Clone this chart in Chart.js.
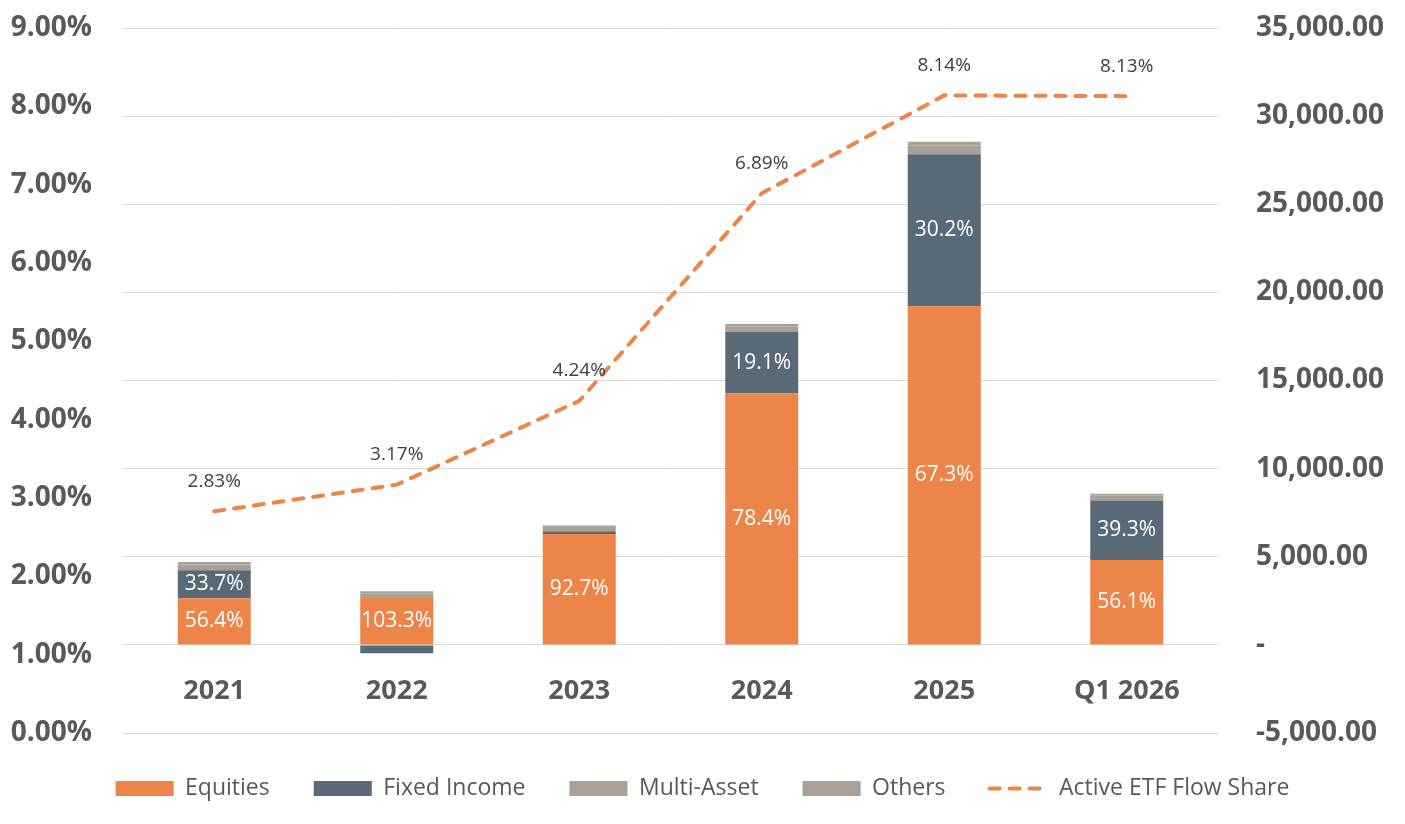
<!DOCTYPE html>
<html>
<head>
<meta charset="utf-8">
<title>Active ETF flows</title>
<script src="https://cdn.jsdelivr.net/npm/chart.js@4.4.1/dist/chart.umd.min.js"></script>
<style>
  html, body { margin: 0; padding: 0; background: #fff; }
  #wrap { width: 1405px; height: 824px; }
</style>
</head>
<body>
<div id="wrap"><canvas id="flowChart" width="1405" height="824"></canvas></div>
<script>
// datos
const categories = ['2021', '2022', '2023', '2024', '2025', 'Q1 2026'];
const equities = [2650, 2655, 6285, 14270, 19215, 4815];
const fixedIncome = [1585, -470, 160, 3475, 8620, 3370];
const multiAsset = [330, 270, 240, 320, 500, 280];
const others = [135, 115, 95, 135, 215, 115];
const flowShare = [2.83, 3.17, 4.24, 6.89, 8.14, 8.13];

// etiquetas de porcentaje dentro de las barras
const equitiesShare = [56.4, 103.3, 92.7, 78.4, 67.3, 56.1];
const fixedIncomeShare = [33.7, null, null, 19.1, 30.2, 39.3];

// ejes
const leftTicks = { min: 0, max: 9, step: 1 };
const rightTicks = { min: -5000, max: 35000, step: 5000 };

const COLORS = {
  equities: '#ED844A',
  fixed: '#596A76',
  grey: '#A9A198',
  line: '#EE8445',
  text: '#595959',
  grid: '#D9D9D9'
};

Chart.defaults.font.family = '"Open Sans", sans-serif';
Chart.defaults.color = COLORS.text;

const valueLabels = {
  id: 'valueLabels',
  afterDatasetsDraw(chart) {
    const ctx = chart.ctx;
    ctx.save();
    ctx.textAlign = 'center';
    ctx.textBaseline = 'middle';
    ctx.font = '21px "Open Sans"';
    ctx.fillStyle = '#ffffff';
    [[0, equitiesShare], [1, fixedIncomeShare]].forEach(([idx, shares]) => {
      chart.getDatasetMeta(idx).data.forEach((bar, i) => {
        if (shares[i] == null) return;
        ctx.fillText(shares[i].toFixed(1) + '%', bar.x, (bar.y + bar.base) / 2);
      });
    });
    // etiquetas de la línea
    ctx.fillStyle = '#404040';
    ctx.font = '19px "Open Sans"';
    chart.getDatasetMeta(4).data.forEach((pt, i) => {
      ctx.fillText(flowShare[i].toFixed(2) + '%', pt.x, pt.y - 30);
    });
    ctx.restore();
  }
};

// quita el relleno extra que Chart.js añade arriba/abajo por las etiquetas
function fixAxis(width) {
  return scale => {
    scale.width = width;
    scale.paddingTop = 0;
    scale.paddingBottom = 0;
  };
}

const ctx = document.getElementById('flowChart').getContext('2d');

new Chart(ctx, {
  type: 'bar',
  data: {
    labels: categories,
    datasets: [
      { label: 'Equities', data: equities, backgroundColor: COLORS.equities, yAxisID: 'y1', stack: 'flows' },
      { label: 'Fixed Income', data: fixedIncome, backgroundColor: COLORS.fixed, yAxisID: 'y1', stack: 'flows' },
      { label: 'Multi-Asset', data: multiAsset, backgroundColor: COLORS.grey, yAxisID: 'y1', stack: 'flows' },
      { label: 'Others', data: others, backgroundColor: COLORS.grey, yAxisID: 'y1', stack: 'flows' },
      {
        type: 'line',
        label: 'Active ETF Flow Share',
        data: flowShare,
        yAxisID: 'y',
        borderColor: COLORS.line,
        borderWidth: 4,
        borderDash: [10, 10],
        borderCapStyle: 'round',
        pointRadius: 0,
        tension: 0,
        fill: false
      }
    ]
  },
  options: {
    responsive: false,
    animation: false,
    layout: { padding: { top: 28, bottom: 14, left: 0, right: 0 } },
    datasets: {
      bar: { barPercentage: 0.4, categoryPercentage: 1 }
    },
    plugins: {
      tooltip: { enabled: false },
      legend: {
        position: 'bottom',
        labels: {
          usePointStyle: true,
          pointStyleWidth: 58,
          boxWidth: 58,
          boxHeight: 15,
          padding: 44,
          color: COLORS.text,
          font: { size: 23 },
          generateLabels(chart) {
            const items = Chart.defaults.plugins.legend.labels.generateLabels(chart);
            items.forEach(item => {
              const ds = chart.data.datasets[item.datasetIndex];
              if (ds.type === 'line') {
                item.pointStyle = 'line';
                item.lineWidth = 4;
                item.lineDash = [10, 10];
                item.lineCap = 'round';
                item.strokeStyle = ds.borderColor;
              } else {
                item.pointStyle = 'rect';
                item.lineWidth = 0;
              }
            });
            return items;
          }
        }
      }
    },
    scales: {
      x: {
        stacked: true,
        position: { y1: 0 },
        grid: { display: false, drawTicks: false },
        border: { display: false },
        ticks: { padding: 30, color: COLORS.text, font: { size: 27, weight: 'bold' } }
      },
      y: {
        position: 'left',
        min: leftTicks.min,
        max: leftTicks.max,
        grid: { display: false, drawTicks: false },
        border: { display: false },
        ticks: {
          stepSize: leftTicks.step,
          padding: 31,
          color: COLORS.text,
          font: { size: 28, weight: 'bold' },
          callback: v => v.toFixed(2) + '%'
        },
        afterFit: fixAxis(123)
      },
      y1: {
        position: 'right',
        stacked: true,
        min: rightTicks.min,
        max: rightTicks.max,
        grid: { color: COLORS.grid, lineWidth: 1, drawTicks: false },
        border: { display: false },
        ticks: {
          stepSize: rightTicks.step,
          padding: 38,
          color: COLORS.text,
          font: { size: 28, weight: 'bold' },
          callback: v => v === 0 ? '-' : v.toLocaleString('en-US', { minimumFractionDigits: 2, maximumFractionDigits: 2 })
        },
        afterFit: fixAxis(187)
      }
    }
  },
  plugins: [valueLabels]
});
</script>
</body>
</html>
